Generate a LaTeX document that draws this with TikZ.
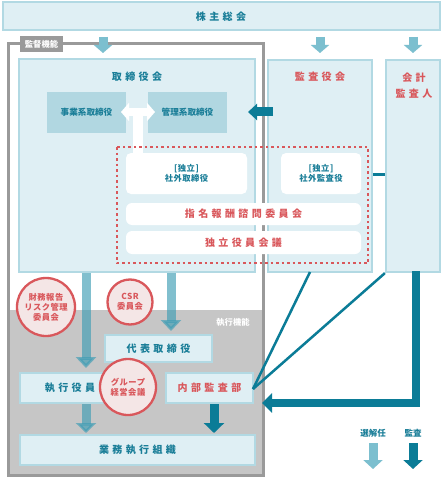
\documentclass[tikz,border=0pt]{standalone}
\usepackage{fontspec}
\setmainfont{Noto Sans CJK JP}
\newfontfamily\jps[LetterSpace=34]{Noto Sans CJK JP}
\newfontfamily\jpm[LetterSpace=6]{Noto Sans CJK JP}
\usetikzlibrary{arrows.meta}
\definecolor{lb}{HTML}{DFEFF4}
\definecolor{lbb}{HTML}{B2D9E3}
\definecolor{mb}{HTML}{B1D7E1}
\definecolor{tt}{HTML}{1A7E98}
\definecolor{dk}{HTML}{0B7C97}
\definecolor{lt}{HTML}{7CBFCF}
\definecolor{la}{HTML}{3E9DB5}
\definecolor{rd}{HTML}{D9575B}
\definecolor{gr}{HTML}{9A9A9A}
\definecolor{gx}{HTML}{C6C6C6}
\definecolor{pk}{HTML}{F4E6E6}
\tikzset{
  box/.style={draw=lbb, fill=lb, line width=2.2pt, inner sep=0pt},
  subbox/.style={fill=mb, inner sep=0pt},
  wbox/.style={fill=white, rounded corners=5pt, inner sep=0pt},
  circ/.style={circle, draw=rd, fill=pk, line width=2.3pt, inner sep=0pt, align=center, text=rd, font=\jpm\fontsize{8.3}{10}\selectfont\bfseries},
  ttl/.style={text=tt, font=\jps\fontsize{10}{12}\selectfont\bfseries},
  rttl/.style={text=rd, font=\jps\fontsize{10}{12}\selectfont\bfseries},
  sm/.style={font=\jpm\fontsize{8.3}{10.5}\selectfont\bfseries, align=center},
  ltarrow/.style={draw=lt, line width=9pt, -{Triangle[width=18pt,length=8pt]}},
  ltsemi/.style={draw=la, opacity=0.65, line width=9pt, -{Triangle[width=20pt,length=11pt]}},
  dkarrow/.style={draw=dk, line width=9pt, -{Triangle[width=18pt,length=9pt]}},
  dkline/.style={draw=dk, line width=2.5pt},
}
\begin{document}
\begin{tikzpicture}[x=1pt,y=-1pt]
\useasboundingbox (0,0) rectangle (442,484);
\fill[white] (0,0) rectangle (442,484);
% execution region
\fill[gx] (8,310) rectangle (263,475);
% supervisory frame
\draw[gr, line width=3pt] (8,44) rectangle (263,475);
% top bar
\node[box, line width=2pt, minimum width=437pt, minimum height=28pt] (agm) at (221,16.5) {};
\node[ttl] at (agm.center) {株主総会};
% main boxes
\node[box, minimum width=236pt, minimum height=213pt] (board) at (137,165.5) {};
\node[box, minimum width=104pt, minimum height=212pt] (kansa) at (320,166) {};
\node[box, minimum width=54pt, minimum height=212pt] (kaikei) at (413,166) {};
% top arrows
\coordinate (a1s) at (103,37); \coordinate (a1e) at (103,53);
\coordinate (a2s) at (320,37); \coordinate (a2e) at (320,53);
\coordinate (a3s) at (413,37); \coordinate (a3e) at (413,53);
\draw[ltarrow] (a1s) -- (a1e);
\draw[ltarrow] (a2s) -- (a2e);
\draw[ltarrow] (a3s) -- (a3e);
% supervisory label
\node[fill=gr, text=white, minimum width=43pt, minimum height=16pt, inner sep=0pt, font=\fontsize{8.3}{9}\selectfont\bfseries] (kantoku) at (41.5,44) {監督機能};
% titles
\node[ttl] at (137,77) {取締役会};
\node[rttl] at (320,77) {監査役会};
\node[rttl, align=center, font=\jps\fontsize{10}{16.5}\selectfont\bfseries] at (414,85.5) {会計\\監査人};
% sub boxes
\node[subbox, minimum width=79pt, minimum height=41pt, text=tt, font=\fontsize{8.6}{10}\selectfont\bfseries] (jigyo) at (86.5,112.5) {事業系取締役};
\node[subbox, minimum width=79pt, minimum height=41pt, text=tt, font=\fontsize{8.6}{10}\selectfont\bfseries] (kanri) at (187.5,112.5) {管理系取締役};
% white double arrow and connector
\coordinate (wv1) at (138,112);
\coordinate (wv2) at (138,155);
\draw[white, line width=10pt] (wv1) -- (wv2);
\draw[white, line width=8pt, {Triangle[width=18pt,length=8pt]}-{Triangle[width=18pt,length=8pt]}] (121,112) -- (155,112);
% dark arrow to board
\coordinate (dks) at (273,112);
\coordinate (dke) at (248,112);
\draw[dkarrow, -{Triangle[width=16pt,length=9pt]}] (dks) -- (dke);
% dotted red box
\draw[rd, line width=2.5pt, dash pattern=on 2.5pt off 3pt] (117,147) rectangle (368,263);
% white boxes
\node[wbox, minimum width=121pt, minimum height=41pt] (shagai) at (186.5,173.5) {};
\node[sm, text=tt] at (shagai.center) {[独立]\\社外取締役};
\node[wbox, minimum width=80pt, minimum height=41pt] (shakan) at (321,173.5) {};
\node[sm, text=tt] at (shakan.center) {[独立]\\社外監査役};
\node[wbox, rounded corners=6pt, minimum width=235pt, minimum height=22pt] (shimei) at (243.5,214) {};
\node[rttl] at (shimei.center) {指名報酬諮問委員会};
\node[wbox, rounded corners=6pt, minimum width=235pt, minimum height=23pt] (dokuritsu) at (243.5,242.5) {};
\node[rttl] at (dokuritsu.center) {独立役員会議};
% connector kansa - kaikei
\draw[dkline, line width=3pt] (kansa.east |- 0,174) -- (kaikei.west |- 0,174);
% execution label
\node[text=white, font=\fontsize{8.3}{9}\selectfont\bfseries] at (233,322) {執行機能};
% lower boxes
\node[box, minimum width=107pt, minimum height=27pt] (daihyo) at (158.5,348.5) {};
\node[ttl] at (daihyo.center) {代表取締役};
\node[box, minimum width=100pt, minimum height=30pt] (shikko) at (70,388) {};
\node[ttl] at (70,388) {執行役員};
\node[box, minimum width=87pt, minimum height=30pt] (naibu) at (209.5,388) {};
\node[rttl] at (naibu.center) {内部監査部};
\node[box, minimum width=235pt, minimum height=30pt] (gyomu) at (137.5,450) {};
\node[ttl] at (gyomu.center) {業務執行組織};
% circles
\node[circ, minimum size=58pt] (zaimu) at (46,307) {財務報告\\リスク管理\\委員会};
\node[circ, minimum size=45pt] (csr) at (130,302) {CSR\\委員会};
\node[circ, minimum size=56pt] (group) at (128,387) {グループ\\経営会議};
% light arrows (appointment)
\coordinate (b1s) at (86,273); \coordinate (b1e) at (86,368);
\coordinate (b2s) at (171,273); \coordinate (b2e) at (171,331);
\coordinate (b3s) at (86,404); \coordinate (b3e) at (86,433);
\draw[ltsemi] (b1s) -- (b1e);
\draw[ltsemi] (b2s) -- (b2e);
\draw[ltsemi, -{Triangle[width=20pt,length=10pt]}] (b3s) -- (b3e);
% dark arrow audit to gyomu
\coordinate (c1s) at (214,404); \coordinate (c1e) at (214,433);
\draw[dkarrow, -{Triangle[width=20pt,length=10pt]}] (c1s) -- (c1e);
% dark lines from naibu
\coordinate (np) at (253,389);
\draw[dkline] (np) -- (310,272);
\draw[dkline] (np) -- (kaikei.south west);
% big L arrow
\draw[dkarrow, line width=8.5pt, -{Triangle[width=19pt,length=10pt]}] (416,271) -- (416,403) -- (262,403);
% legend
\node[text=tt, font=\fontsize{8.5}{9}\selectfont\bfseries] (lg1) at (373,433) {選解任};
\node[text=tt, font=\fontsize{8.5}{9}\selectfont\bfseries] (lg2) at (413,433) {監査};
\draw[ltarrow, -{Triangle[width=19pt,length=9pt]}] (373,443) -- (373,469);
\draw[dkarrow, -{Triangle[width=19pt,length=9pt]}] (413,443) -- (413,469);
\end{tikzpicture}
\end{document}
